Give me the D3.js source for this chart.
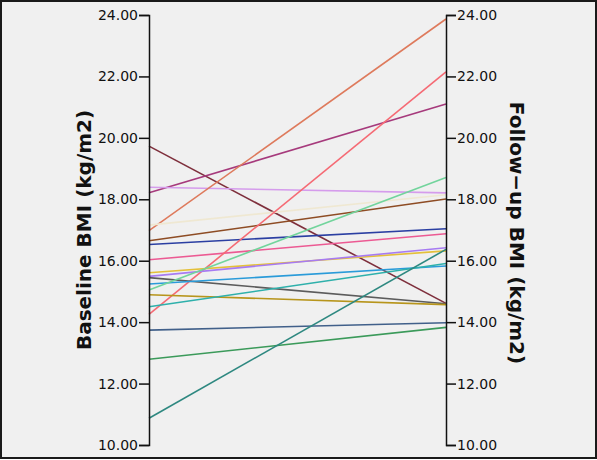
<!DOCTYPE html>
<html>
<head>
<meta charset="utf-8">
<script src="https://cdn.jsdelivr.net/npm/d3@7"></script>
<style>
  body { margin: 0; background: #fff; }
  text { font-family: "DejaVu Sans", sans-serif; }
</style>
</head>
<body>
<script>
// one line per subject, baseline -> follow-up BMI
var baseline = [19.73, 18.21, 18.39, 16.98, 17.16, 16.65, 16.53, 16.03, 14.25, 15.61, 15.49, 15.45, 15.24, 15.05, 14.89, 14.50, 13.74, 12.79, 10.87];
var followup = [14.61, 21.10, 18.21, 23.87, 18.15, 18.01, 17.04, 16.88, 22.15, 16.32, 16.42, 14.60, 15.83, 18.71, 14.57, 15.91, 13.98, 13.83, 16.37];
var colors = ["#7e2f3c", "#a63a7c", "#d59cec", "#de7a5c", "#efe8d2", "#8e4c24", "#2b3fa2", "#ec5a93",
              "#f56a74", "#e4c03a", "#a77bf2", "#5c5c5c", "#2a9bd9", "#72d49c", "#b7951c", "#2eb0ab",
              "#41608a", "#3b9a5a", "#2e8880"];
var tickVals = [10, 12, 14, 16, 18, 20, 22, 24];

var W = 597, H = 460;
var xL = 149, xR = 446;

var svg = d3.select("body").append("svg")
    .attr("width", W)
    .attr("height", H);

svg.append("rect")
    .attr("x", 1).attr("y", 1)
    .attr("width", W - 2).attr("height", H - 3)
    .attr("fill", "#f0f0f0")
    .attr("stroke", "#1a1a1a")
    .attr("stroke-width", 2);

var y = d3.scaleLinear().domain([10, 24]).range([445, 15]);

var fmt = d3.format(".2f");

var pairs = baseline.map(function(d, i) {
    return {b: d, f: followup[i], c: colors[i]};
});

svg.selectAll("line.subj")
   .data(pairs)
   .enter()
   .append("line")
   .attr("class", "subj")
   .attr("x1", xL)
   .attr("x2", xR)
   .attr("y1", function(d) { return y(d.b); })
   .attr("y2", function(d) { return y(d.f); })
   .attr("stroke", function(d) { return d.c; })
   .attr("stroke-width", 1.6);

var axL = svg.append("g")
    .attr("transform", "translate(" + xL + ",0)")
    .call(d3.axisLeft(y).tickValues(tickVals).tickFormat(fmt).tickSize(10).tickPadding(1));
var axR = svg.append("g")
    .attr("transform", "translate(" + xR + ",0)")
    .call(d3.axisRight(y).tickValues(tickVals).tickFormat(fmt).tickSize(10).tickPadding(1));

[axL, axR].forEach(function(ax) {
    ax.select(".domain").attr("stroke", "#111").attr("stroke-width", 1.5);
    ax.selectAll(".tick line").attr("stroke", "#111").attr("stroke-width", 1.5);
    ax.selectAll(".tick text")
      .attr("fill", "#111")
      .style("font-family", "DejaVu Sans")
      .style("font-size", "14px");
});

svg.append("text")
   .attr("transform", "translate(85,230) rotate(-90)")
   .attr("text-anchor", "middle")
   .attr("dominant-baseline", "middle")
   .style("font-size", "20px")
   .style("font-weight", "bold")
   .attr("fill", "#111")
   .text("Baseline BMI (kg/m2)");

svg.append("text")
   .attr("transform", "translate(515,233) rotate(90)")
   .attr("text-anchor", "middle")
   .attr("dominant-baseline", "middle")
   .style("font-size", "20px")
   .style("font-weight", "bold")
   .attr("fill", "#111")
   .text("Follow\u2212up BMI (kg/m2)");
</script>
</body>
</html>
